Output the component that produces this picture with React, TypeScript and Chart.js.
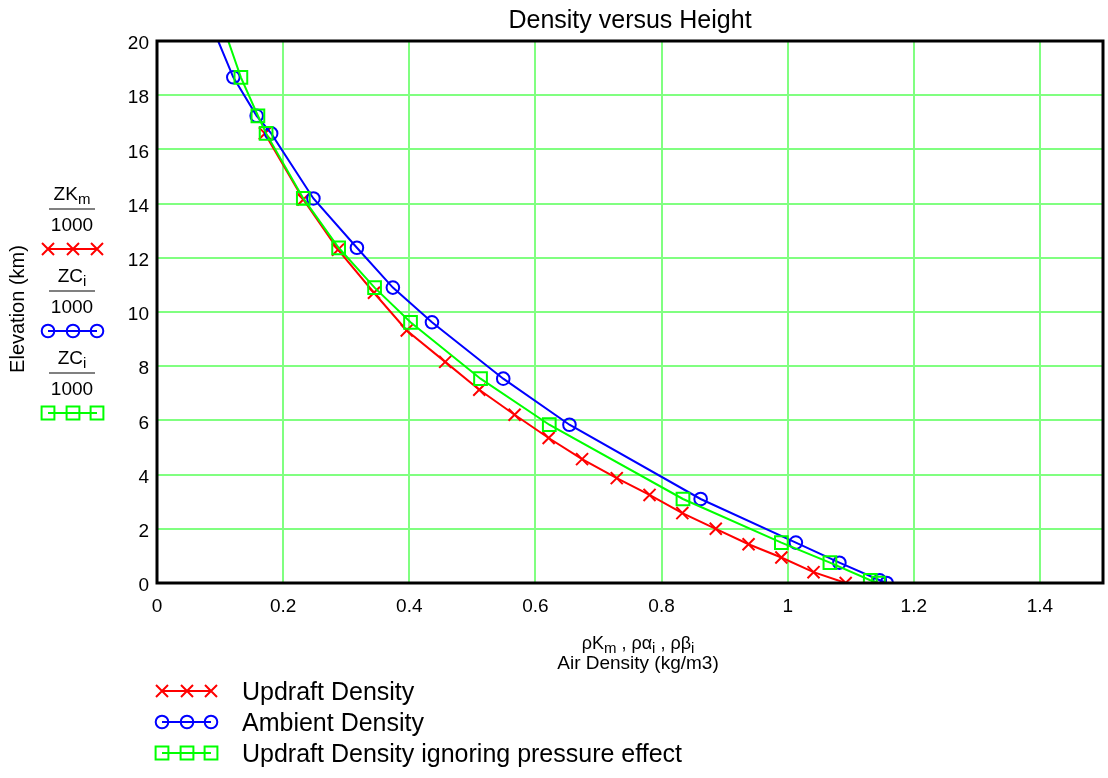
import React, { useEffect, useRef } from "react";
import { Chart, registerables } from "chart.js";

Chart.register(...registerables);

const FONT = '"Liberation Sans", Arial, Helvetica, sans-serif';

const xTickValues = [0, 0.2, 0.4, 0.6, 0.8, 1.0, 1.2, 1.4];
const yTickValues = [0, 2, 4, 6, 8, 10, 12, 14, 16, 18, 20];

const chartTitle = "Density versus Height";
const yAxisTitle = "Elevation (km)";
const xAxisTitle2 = "Air Density (kg/m3)";
const seriesNames = [
  "Updraft Density",
  "Ambient Density",
  "Updraft Density ignoring pressure effect",
];
const seriesColors = ["#ff0000", "#0000ff", "#00ff00"];

// Updraft density (red, x markers)
const updraftHeight = [0, 0.4, 0.94, 1.43, 2.0, 2.58, 3.25, 3.87, 4.57, 5.35, 6.21, 7.13, 8.16, 9.32, 10.71, 12.3, 14.15, 16.59];
const updraftDensity = [1.092, 1.041, 0.99, 0.938, 0.886, 0.833, 0.781, 0.729, 0.674, 0.621, 0.567, 0.511, 0.457, 0.396, 0.344, 0.287, 0.232, 0.171];

// Ambient density (blue, circles)
const ambientHeight = [0, 0.1, 0.75, 1.49, 3.1, 5.84, 7.54, 9.62, 10.9, 12.37, 14.19, 16.59, 17.24, 18.66, 20];
const ambientDensity = [1.157, 1.146, 1.082, 1.013, 0.862, 0.654, 0.549, 0.436, 0.374, 0.317, 0.248, 0.181, 0.158, 0.121, 0.097];

// Updraft density ignoring pressure effect (green, squares)
const ignoringHeight = [0, 0.1, 0.75, 1.49, 3.1, 5.84, 7.54, 9.62, 10.9, 12.37, 14.19, 16.59, 17.24, 18.66, 20];
const ignoringDensity = [1.144, 1.131, 1.067, 0.99, 0.834, 0.622, 0.513, 0.402, 0.345, 0.288, 0.232, 0.173, 0.16, 0.133, 0.113];

type Part = { t: string; sub?: boolean };

function drawRich(
  ctx: CanvasRenderingContext2D,
  parts: Part[],
  cx: number,
  baseline: number,
  size: number,
  subSize: number,
  subDrop: number
) {
  const widths = parts.map((p) => {
    ctx.font = `${p.sub ? subSize : size}px ${FONT}`;
    return ctx.measureText(p.t).width;
  });
  const total = widths.reduce((a, b) => a + b, 0);
  let x = cx - total / 2;
  ctx.textAlign = "left";
  ctx.textBaseline = "alphabetic";
  parts.forEach((p, i) => {
    ctx.font = `${p.sub ? subSize : size}px ${FONT}`;
    ctx.fillText(p.t, x, baseline + (p.sub ? subDrop : 0));
    x += widths[i];
  });
}

function drawMarker(ctx: CanvasRenderingContext2D, kind: string, x: number, y: number, color: string) {
  ctx.save();
  ctx.strokeStyle = color;
  ctx.lineWidth = 2;
  ctx.beginPath();
  if (kind === "cross") {
    const h = 6;
    ctx.moveTo(x - h, y - h);
    ctx.lineTo(x + h, y + h);
    ctx.moveTo(x + h, y - h);
    ctx.lineTo(x - h, y + h);
  } else if (kind === "circle") {
    ctx.arc(x, y, 6.3, 0, Math.PI * 2);
  } else {
    const h = 6.4;
    ctx.rect(x - h, y - h, 2 * h, 2 * h);
  }
  ctx.stroke();
  ctx.restore();
}

function drawSample(ctx: CanvasRenderingContext2D, kind: string, xs: number[], y: number, color: string) {
  ctx.save();
  ctx.strokeStyle = color;
  ctx.lineWidth = 2;
  ctx.beginPath();
  ctx.moveTo(xs[0], y);
  ctx.lineTo(xs[xs.length - 1], y);
  ctx.stroke();
  ctx.restore();
  xs.forEach((x) => drawMarker(ctx, kind, x, y, color));
}

const markerKinds = ["cross", "circle", "square"];

const decorPlugin = {
  id: "decor",
  afterDraw(chart: any) {
    const ctx: CanvasRenderingContext2D = chart.ctx;
    const a = chart.chartArea;
    ctx.save();
    // frame
    ctx.strokeStyle = "#000";
    ctx.lineWidth = 3;
    ctx.strokeRect(a.left, a.top, a.right - a.left, a.bottom - a.top);

    ctx.fillStyle = "#000";
    // title
    ctx.font = `25px ${FONT}`;
    ctx.textAlign = "center";
    ctx.textBaseline = "alphabetic";
    ctx.fillText(chartTitle, (a.left + a.right) / 2, 28);

    // y axis title
    ctx.save();
    ctx.translate(18, 309);
    ctx.rotate(-Math.PI / 2);
    ctx.font = `20px ${FONT}`;
    ctx.textAlign = "center";
    ctx.textBaseline = "middle";
    ctx.fillText(yAxisTitle, 0, 0);
    ctx.restore();

    // left legend (fractions)
    const nums: Part[][] = [
      [{ t: "ZK" }, { t: "m", sub: true }],
      [{ t: "ZC" }, { t: "i", sub: true }],
      [{ t: "ZC" }, { t: "i", sub: true }],
    ];
    const blockBase = [200, 282, 364];
    nums.forEach((num, i) => {
      const nb = blockBase[i];
      ctx.fillStyle = "#000";
      drawRich(ctx, num, 72, nb, 19, 15, 4);
      ctx.strokeStyle = "#808080";
      ctx.lineWidth = 2;
      ctx.beginPath();
      ctx.moveTo(49, nb + 9);
      ctx.lineTo(95, nb + 9);
      ctx.stroke();
      ctx.fillStyle = "#000";
      drawRich(ctx, [{ t: "1000" }], 72, nb + 31, 19, 15, 4);
      drawSample(ctx, markerKinds[i], [48, 73, 97], nb + 49, seriesColors[i]);
    });

    // x axis title
    ctx.fillStyle = "#000";
    drawRich(
      ctx,
      [
        { t: "ρK" },
        { t: "m", sub: true },
        { t: " , ρα" },
        { t: "i", sub: true },
        { t: " , ρβ" },
        { t: "i", sub: true },
      ],
      638,
      649,
      18,
      15,
      4
    );
    drawRich(ctx, [{ t: xAxisTitle2 }], 638, 669, 19, 15, 4);

    // bottom legend
    const rows = [691, 722, 753];
    rows.forEach((ry, i) => {
      drawSample(ctx, markerKinds[i], [162, 187, 211], ry, seriesColors[i]);
      ctx.fillStyle = "#000";
      ctx.font = `25px ${FONT}`;
      ctx.textAlign = "left";
      ctx.textBaseline = "alphabetic";
      ctx.fillText(seriesNames[i], 242, ry + 9);
    });
    ctx.restore();
  },
};

function toPoints(hs: number[], ds: number[]) {
  return hs.map((h, i) => ({ x: ds[i], y: h }));
}

export default function App() {
  const ref = useRef<HTMLCanvasElement>(null);
  useEffect(() => {
    if (!ref.current) return;
    const endRadius = (r: number) => (c: any) => (c.raw && c.raw.y >= 20 ? 0 : r);
    const chart = new Chart(ref.current, {
      type: "scatter",
      data: {
        datasets: [
          {
            label: seriesNames[0],
            data: toPoints(updraftHeight, updraftDensity),
            showLine: true,
            borderColor: seriesColors[0],
            backgroundColor: "rgba(0,0,0,0)",
            borderWidth: 2,
            pointStyle: "crossRot",
            pointRadius: 8.5,
            pointBorderWidth: 2,
            pointBorderColor: seriesColors[0],
            order: 3,
          },
          {
            label: seriesNames[1],
            data: toPoints(ambientHeight, ambientDensity),
            showLine: true,
            borderColor: seriesColors[1],
            backgroundColor: "rgba(0,0,0,0)",
            borderWidth: 2,
            pointStyle: "circle",
            pointRadius: endRadius(6.3),
            pointBorderWidth: 2,
            pointBorderColor: seriesColors[1],
            order: 2,
          },
          {
            label: seriesNames[2],
            data: toPoints(ignoringHeight, ignoringDensity),
            showLine: true,
            borderColor: seriesColors[2],
            backgroundColor: "rgba(0,0,0,0)",
            borderWidth: 2,
            pointStyle: "rect",
            pointRadius: endRadius(9),
            pointBorderWidth: 2,
            pointBorderColor: seriesColors[2],
            order: 1,
          },
        ],
      },
      options: {
        responsive: false,
        animation: false,
        devicePixelRatio: 1,
        layout: { autoPadding: false, padding: { top: 41, right: 5, left: 0, bottom: 0 } },
        plugins: {
          legend: { display: false },
          title: { display: false },
          tooltip: { enabled: false },
        },
        elements: { line: { tension: 0 } },
        scales: {
          x: {
            type: "linear",
            min: 0,
            max: 1.5,
            afterBuildTicks: (scale: any) => {
              scale.ticks = xTickValues.map((v) => ({ value: v }));
            },
            afterFit: (scale: any) => {
              scale.height = 195;
              scale.paddingLeft = 0;
              scale.paddingRight = 0;
            },
            grid: { color: "#80ff80", lineWidth: 2, drawTicks: false },
            border: { display: false },
            ticks: {
              padding: 12,
              color: "#000",
              font: { family: FONT, size: 19 },
              maxRotation: 0,
              autoSkip: false,
              callback: (v: any) => String(Math.round(Number(v) * 10) / 10),
            },
          },
          y: {
            type: "linear",
            min: 0,
            max: 20,
            afterBuildTicks: (scale: any) => {
              scale.ticks = yTickValues.map((v) => ({ value: v }));
            },
            afterFit: (scale: any) => {
              scale.width = 157;
              scale.paddingTop = 0;
              scale.paddingBottom = 0;
            },
            grid: { color: "#80ff80", lineWidth: 2, drawTicks: false },
            border: { display: false },
            ticks: {
              padding: 8,
              labelOffset: 3,
              color: "#000",
              font: { family: FONT, size: 19 },
              autoSkip: false,
              callback: (v: any) => String(v),
            },
          },
        },
      },
      plugins: [decorPlugin],
    } as any);
    return () => chart.destroy();
  }, []);
  return (
    <div style={{ position: "fixed", left: 0, top: 0, width: 1108, height: 778, background: "#fff" }}>
      <canvas ref={ref} width={1108} height={778} style={{ display: "block", width: 1108, height: 778 }} />
    </div>
  );
}
